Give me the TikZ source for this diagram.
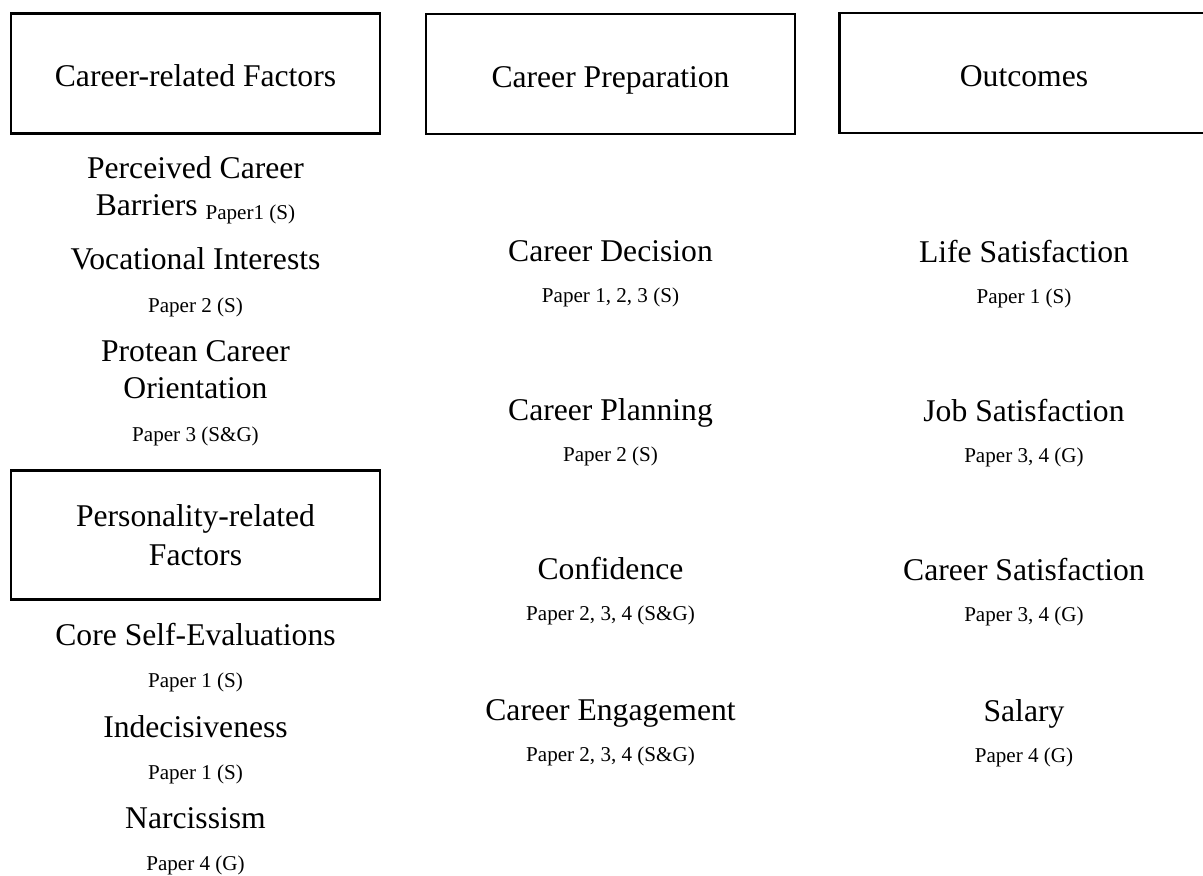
\documentclass[tikz,border=0pt]{standalone}
\usepackage{fontspec}
\setmainfont{Liberation Serif}
\usetikzlibrary{positioning}

\begin{document}
\begin{tikzpicture}[
  head/.style={draw, line width=1.25pt, minimum width=7.38cm, minimum height=2.4cm,
    align=center, text height=0.54cm, text depth=0pt, font=\fontsize{18}{21.6}\selectfont},
  item/.style={anchor=base, align=center, inner sep=0pt, font=\fontsize{18}{20.5}\selectfont},
  paper/.style={anchor=base, inner sep=0pt, font=\fontsize{12}{14}\selectfont}]
  \useasboundingbox (0,0) rectangle (24.06,-17.52);
  \def\colL{3.91} \def\colM{12.21} \def\colR{20.48}

  % group headings
  \node[head] (career) at (\colL,-1.47) {Career-related Factors};
  \node[head] (prep) at (\colM,-1.48) {Career Preparation};
  \node[head] (outc) at (\colR,-1.46) {Outcomes};
  \node[head, minimum height=2.58cm, text height=, text depth=, font=\fontsize{18}{22.3}\selectfont]
    (pers) at (\colL,-10.7) {Personality-related\\Factors};

  % career-related factors (two-line items sit on their last line)
  \node[item] (barr) at (\colL,-4.3)
    {Perceived Career\\Barriers {\fontsize{12}{14}\selectfont\raisebox{-0.08cm}{Paper1 (S)}}};
  \node[item] (voc) at (\colL,-5.38) {Vocational Interests};
  \node[paper] (voc-p) at ([yshift=-0.86cm]voc.base) {Paper 2 (S)};
  \node[item] (prot) at (\colL,-7.96) {Protean Career\\Orientation};
  \node[paper] (prot-p) at ([yshift=-0.86cm]prot.base) {Paper 3 (S\&G)};

  % personality-related factors
  \foreach \y/\n/\t/\p in {-12.9/cse/Core Self-Evaluations/Paper 1 (S),
      -14.75/indec/Indecisiveness/Paper 1 (S), -16.56/narc/Narcissism/Paper 4 (G)} {
    \node[item] (\n) at (\colL,\y) {\t};
    \node[paper] (\n-p) at ([yshift=-0.84cm]\n.base) {\p};
  }

  % career preparation
  \foreach \y/\n/\t/\p in {-5.22/dec/Career Decision/{Paper 1, 2, 3 (S)},
      -8.4/plan/Career Planning/Paper 2 (S), -11.58/conf/Confidence/{Paper 2, 3, 4 (S\&G)},
      -14.4/eng/Career Engagement/{Paper 2, 3, 4 (S\&G)}} {
    \node[item] (\n) at (\colM,\y) {\t};
    \node[paper] (\n-p) at ([yshift=-0.82cm]\n.base) {\p};
  }

  % outcomes
  \foreach \y/\n/\t/\p in {-5.24/life/Life Satisfaction/Paper 1 (S),
      -8.42/job/Job Satisfaction/{Paper 3, 4 (G)}, -11.6/csat/Career Satisfaction/{Paper 3, 4 (G)},
      -14.42/sal/Salary/Paper 4 (G)} {
    \node[item] (\n) at (\colR,\y) {\t};
    \node[paper] (\n-p) at ([yshift=-0.82cm]\n.base) {\p};
  }
\end{tikzpicture}
\end{document}
